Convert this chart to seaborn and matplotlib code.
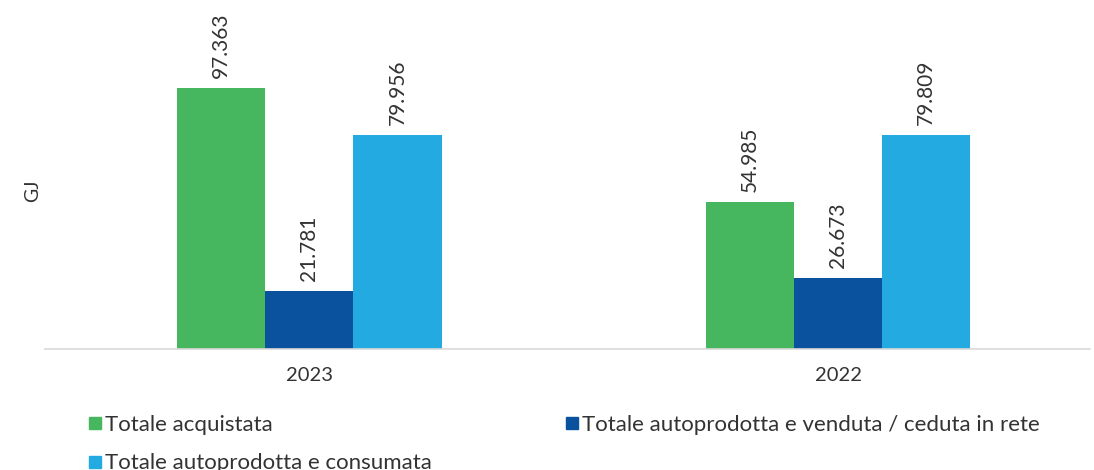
import numpy as np
import pandas as pd

import matplotlib.pyplot as plt
from matplotlib.lines import Line2D
import seaborn as sns

sns.set_theme(style="white")
plt.rcParams['font.family'] = ['Lato', 'DejaVu Sans']

# -- Data -- #
years = ['2023', '2022']
series = ['Totale acquistata',
          'Totale autoprodotta e venduta/ceduta in rete',
          'Totale autoprodotta e consumata']
acquistata = [97363, 54985]
venduta = [21781, 26673]
consumata = [79956, 79809]
colors = ['#47B75F', '#0A529E', '#23AAE1']

df = pd.DataFrame({
    'Anno': years * 3,
    'Serie': np.repeat(series, len(years)),
    'GJ': acquistata + venduta + consumata,
})

text_col = '#333333'

fig = plt.figure(figsize=(10.94, 4.70), dpi=100)
ax = fig.add_axes([0.0411, 0.2574, 0.9552, 0.70])

sns.barplot(data=df, x='Anno', y='GJ', hue='Serie', order=years,
            hue_order=series, palette=colors, width=0.5, linewidth=0,
            saturation=1, legend=False, ax=ax)

# value labels, italian thousands separator
for cont in ax.containers:
    labels = [f"{v:,.0f}".replace(",", ".") for v in cont.datavalues]
    ax.bar_label(cont, labels=labels, rotation=90, padding=7,
                 fontsize=15, color=text_col)

ax.set_xlim(-0.5, 1.476)
ax.set_ylim(0, 122700)
ax.set_yticks([])
ax.set_xlabel('')
ax.set_ylabel('GJ', fontsize=14, color=text_col)
ax.yaxis.set_label_coords(-0.004, 0.48)
ax.tick_params(axis='x', length=0, pad=13, labelsize=14.5, labelcolor=text_col)

for s in ['top', 'right', 'left']:
    ax.spines[s].set_visible(False)
ax.spines['bottom'].set_color('#d9d9d9')
ax.spines['bottom'].set_linewidth(1.2)

# legend: column-first fill gives acquistata/consumata left, venduta right
order = [0, 2, 1]
handles = [Line2D([], [], marker='s', linestyle='', markersize=9,
                  color=colors[i]) for i in order]
fig.legend(handles, [series[i].replace('/', ' / ') for i in order],
           ncol=2, loc='upper left', bbox_to_anchor=(0.081, 0.118),
           frameon=False, fontsize=16, labelcolor=text_col,
           handlelength=0.55, handletextpad=0.2, borderpad=0,
           borderaxespad=0, labelspacing=0.85, columnspacing=6.0)

fig.savefig('out.png', dpi=100)
plt.close()
